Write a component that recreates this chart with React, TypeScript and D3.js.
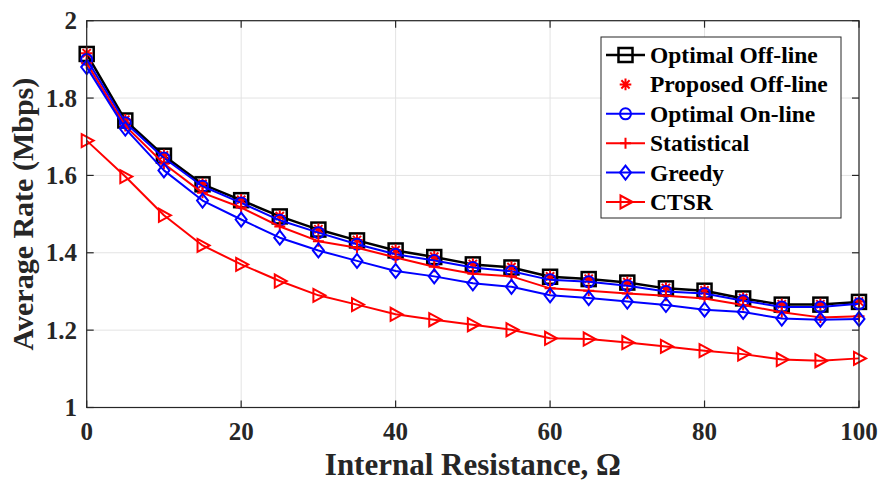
import React from "react";
import * as d3 from "d3";

const xValues = [0, 5, 10, 15, 20, 25, 30, 35, 40, 45, 50, 55, 60, 65, 70, 75, 80, 85, 90, 95, 100];
const optimalOffline = [1.914, 1.742, 1.651, 1.577, 1.536, 1.494, 1.46, 1.432, 1.406, 1.389, 1.37, 1.362, 1.338, 1.332, 1.323, 1.308, 1.302, 1.282, 1.266, 1.266, 1.273];
const proposedOffline = [1.916, 1.744, 1.652, 1.578, 1.537, 1.495, 1.461, 1.433, 1.407, 1.39, 1.371, 1.363, 1.339, 1.333, 1.324, 1.309, 1.303, 1.283, 1.267, 1.267, 1.274];
const optimalOnline = [1.9, 1.736, 1.645, 1.572, 1.529, 1.484, 1.452, 1.422, 1.396, 1.38, 1.362, 1.352, 1.33, 1.325, 1.315, 1.3, 1.295, 1.276, 1.26, 1.26, 1.268];
const statistical = [1.89, 1.728, 1.63, 1.555, 1.517, 1.468, 1.43, 1.413, 1.388, 1.364, 1.346, 1.339, 1.308, 1.302, 1.295, 1.289, 1.282, 1.265, 1.246, 1.233, 1.236];
const greedy = [1.88, 1.721, 1.613, 1.535, 1.486, 1.439, 1.406, 1.379, 1.353, 1.339, 1.321, 1.312, 1.29, 1.283, 1.274, 1.265, 1.253, 1.247, 1.23, 1.227, 1.229];
const ctsr = [1.69, 1.597, 1.497, 1.419, 1.37, 1.327, 1.29, 1.266, 1.241, 1.227, 1.214, 1.201, 1.179, 1.177, 1.168, 1.158, 1.147, 1.138, 1.124, 1.121, 1.127];

const xTicks = [0, 20, 40, 60, 80, 100];
const yTicks = [1, 1.2, 1.4, 1.6, 1.8, 2];
const yTickLabels = ["1", "1.2", "1.4", "1.6", "1.8", "2"];

type MarkerKind = "square" | "asterisk" | "circle" | "plus" | "diamond" | "triangle";

const seriesList: { name: string; values: number[]; color: string; marker: MarkerKind; line: boolean; width: number }[] = [
  { name: "Optimal Off-line", values: optimalOffline, color: "#000000", marker: "square", line: true, width: 2.5 },
  { name: "Proposed Off-line", values: proposedOffline, color: "#ff0000", marker: "asterisk", line: false, width: 2 },
  { name: "Optimal On-line", values: optimalOnline, color: "#0000ff", marker: "circle", line: true, width: 2 },
  { name: "Statistical", values: statistical, color: "#ff0000", marker: "plus", line: true, width: 2 },
  { name: "Greedy", values: greedy, color: "#0000ff", marker: "diamond", line: true, width: 2 },
  { name: "CTSR", values: ctsr, color: "#ff0000", marker: "triangle", line: true, width: 2 },
];

const FONT = "'Liberation Serif', 'Times New Roman', Times, serif";

function Marker({ kind, x, y, color }: { kind: MarkerKind; x: number; y: number; color: string }) {
  const sw = 2;
  switch (kind) {
    case "square":
      return <rect x={x - 7} y={y - 7} width={14} height={14} fill="none" stroke={color} strokeWidth={2.5} />;
    case "circle":
      return <circle cx={x} cy={y} r={5.5} fill="none" stroke={color} strokeWidth={sw} />;
    case "diamond":
      return <path d={`M${x},${y - 7}L${x + 5.5},${y}L${x},${y + 7}L${x - 5.5},${y}Z`} fill="none" stroke={color} strokeWidth={sw} />;
    case "triangle":
      return <path d={`M${x + 7},${y}L${x - 5},${y - 6.5}L${x - 5},${y + 6.5}Z`} fill="none" stroke={color} strokeWidth={sw} />;
    case "plus":
      return <path d={`M${x - 5.5},${y}L${x + 5.5},${y}M${x},${y - 5.5}L${x},${y + 5.5}`} stroke={color} strokeWidth={sw} />;
    case "asterisk": {
      const r = 5.8;
      const d = r * 0.7071;
      return (
        <path
          d={`M${x - r},${y}L${x + r},${y}M${x},${y - r}L${x},${y + r}M${x - d},${y - d}L${x + d},${y + d}M${x - d},${y + d}L${x + d},${y - d}`}
          stroke={color}
          strokeWidth={2}
        />
      );
    }
  }
  return null;
}

export default function App() {
  const W = 883;
  const H = 481;
  const left = 86.7;
  const right = 859;
  const top = 20.7;
  const bottom = 407.5;

  const x = d3.scaleLinear().domain([0, 100]).range([left, right]);
  const y = d3.scaleLinear().domain([1, 2]).range([bottom, top]);

  const line = d3
    .line<number>()
    .x((_, i) => x(xValues[i]))
    .y((v) => y(v));

  const axisColor = "#262626";
  const tickLen = 7;

  const legendX = 601;
  const legendY = 37;
  const legendW = 240;
  const legendH = 181;
  const rowStart = 55;
  const rowStep = 29.4;

  return (
    <svg
      width={W}
      height={H}
      style={{ position: "absolute", left: 0, top: 0, background: "#fff" }}
      fontFamily={FONT}
    >
      <rect x={0} y={0} width={W} height={H} fill="#fff" />
      {/* grid */}
      {xTicks.map((t) => (
        <line key={"gx" + t} x1={x(t)} x2={x(t)} y1={top} y2={bottom} stroke="#e3e3e3" strokeWidth={1} />
      ))}
      {yTicks.map((t) => (
        <line key={"gy" + t} x1={left} x2={right} y1={y(t)} y2={y(t)} stroke="#e3e3e3" strokeWidth={1} />
      ))}

      {/* series */}
      {seriesList.map((s) => (
        <g key={s.name}>
          {s.line && <path d={line(s.values) || ""} fill="none" stroke={s.color} strokeWidth={s.width} strokeLinejoin="round" />}
          {s.values.map((v, i) => (
            <Marker key={i} kind={s.marker} x={x(xValues[i])} y={y(v)} color={s.color} />
          ))}
        </g>
      ))}

      {/* axes box */}
      <rect x={left} y={top} width={right - left} height={bottom - top} fill="none" stroke={axisColor} strokeWidth={1.2} />
      {xTicks.map((t) => (
        <g key={"tx" + t}>
          <line x1={x(t)} x2={x(t)} y1={bottom} y2={bottom - tickLen} stroke={axisColor} strokeWidth={1.2} />
          <line x1={x(t)} x2={x(t)} y1={top} y2={top + tickLen} stroke={axisColor} strokeWidth={1.2} />
          <text x={x(t)} y={440} textAnchor="middle" fontSize={25} fontWeight="bold" fill="#262626">
            {t}
          </text>
        </g>
      ))}
      {yTicks.map((t, i) => (
        <g key={"ty" + t}>
          <line x1={left} x2={left + tickLen} y1={y(t)} y2={y(t)} stroke={axisColor} strokeWidth={1.2} />
          <line x1={right} x2={right - tickLen} y1={y(t)} y2={y(t)} stroke={axisColor} strokeWidth={1.2} />
          <text x={77} y={y(t) + 8.5} textAnchor="end" fontSize={25} fontWeight="bold" fill="#262626">
            {yTickLabels[i]}
          </text>
        </g>
      ))}

      {/* axis titles */}
      <text x={(left + right) / 2} y={475} textAnchor="middle" fontSize={31} fontWeight="bold" fill="#262626">
        Internal Resistance, Ω
      </text>
      <text
        transform={`translate(33,${(top + bottom) / 2}) rotate(-90)`}
        textAnchor="middle"
        fontSize={30}
        fontWeight="bold"
        fill="#262626"
      >
        Average Rate (Mbps)
      </text>

      {/* legend */}
      <rect x={legendX} y={legendY} width={legendW} height={legendH} fill="#fff" stroke="#262626" strokeWidth={1} />
      {seriesList.map((s, i) => {
        const cy = rowStart + i * rowStep;
        return (
          <g key={"lg" + s.name}>
            {s.line && <line x1={606} x2={645} y1={cy} y2={cy} stroke={s.color} strokeWidth={s.width} />}
            <Marker kind={s.marker} x={625.5} y={cy} color={s.color} />
            <text x={650} y={cy + 8} fontSize={23.5} fontWeight="bold" fill="#000">
              {s.name}
            </text>
          </g>
        );
      })}
    </svg>
  );
}
